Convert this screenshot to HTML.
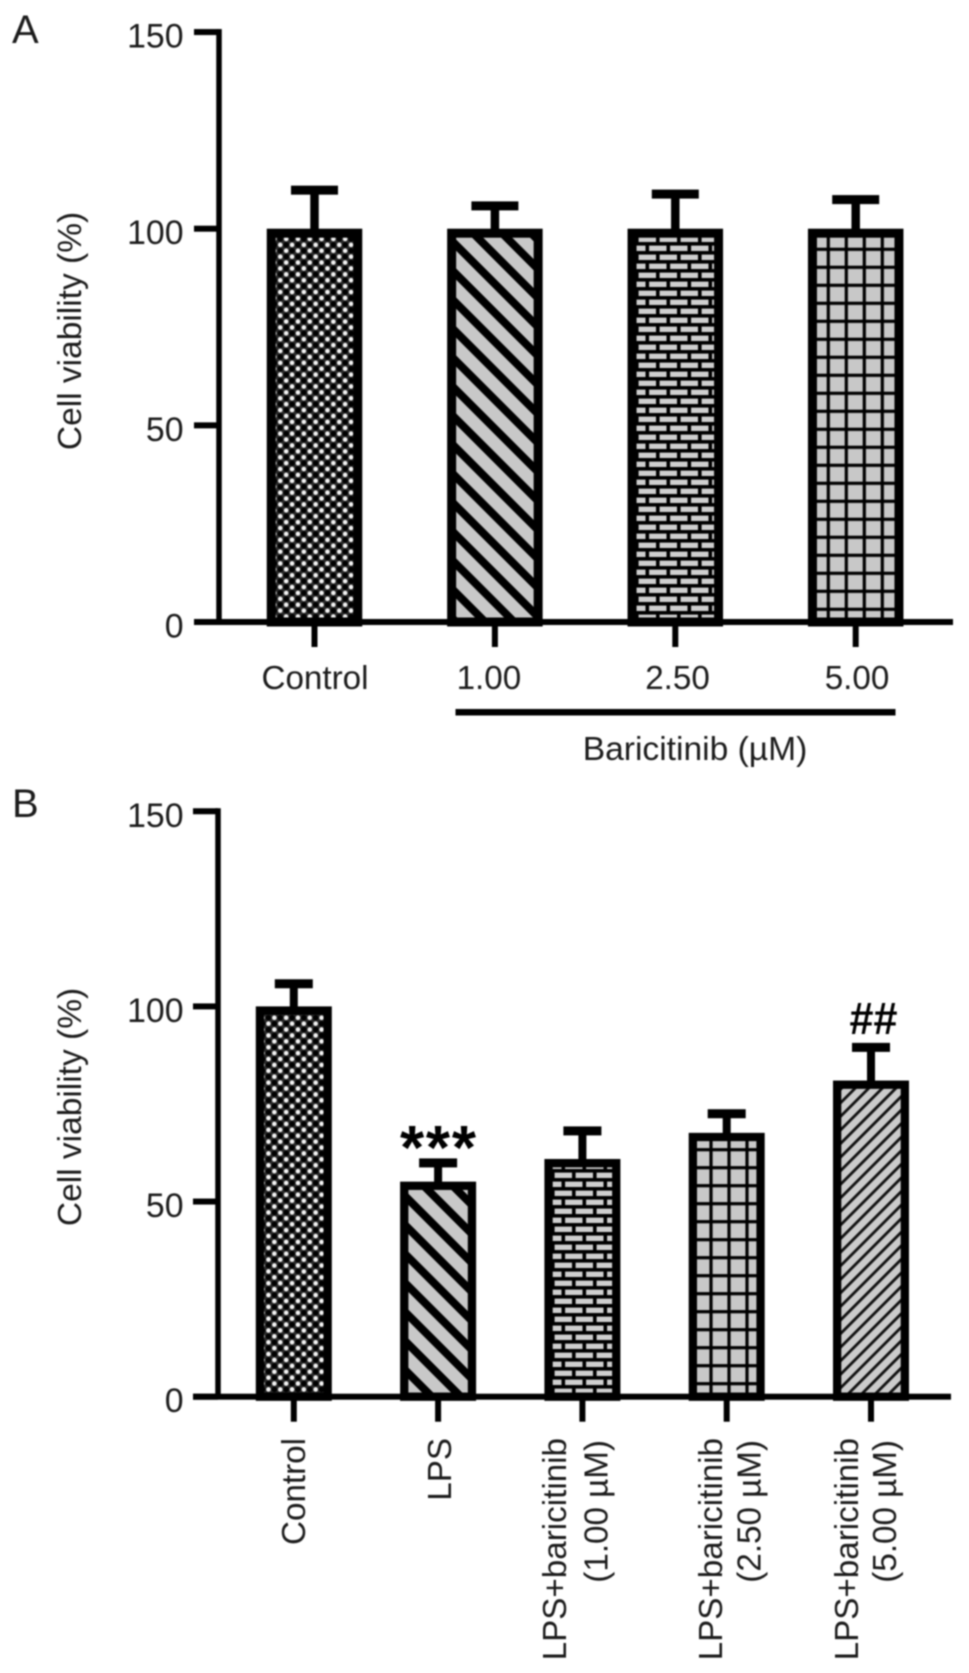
<!DOCTYPE html>
<html lang="en">
<head>
<meta charset="utf-8">
<title>Cell viability bar charts</title>
<style>
html,body{margin:0;padding:0;background:#fff;}
svg{display:block;filter:blur(0.7px);}
text{font-family:"Liberation Sans",Arial,sans-serif;fill:#1c1c1c;}
</style>
</head>
<body>
<svg id="figure" xmlns="http://www.w3.org/2000/svg" width="969" height="1673" viewBox="0 0 969 1673">
  <defs>
    <pattern id="dots" patternUnits="userSpaceOnUse" width="11.8" height="11.8">
      <rect width="11.8" height="11.8" fill="#2a2a2a"/>
      <circle cx="2.95" cy="2.95" r="2.3" fill="#f4f4f4"/>
      <circle cx="8.85" cy="8.85" r="2.3" fill="#f4f4f4"/>
      <circle cx="8.85" cy="2.95" r="2.8" fill="#000"/>
      <circle cx="2.95" cy="8.85" r="2.8" fill="#000"/>
    </pattern>
    <pattern id="back-hatch-a" patternUnits="userSpaceOnUse" width="20.5" height="20.5" patternTransform="rotate(45) translate(0 10.8)">
      <rect width="20.5" height="20.5" fill="#c8c8c8"/>
      <rect width="20.5" height="8" fill="#000"/>
    </pattern>
    <pattern id="back-hatch-b" patternUnits="userSpaceOnUse" width="20.5" height="20.5" patternTransform="rotate(45) translate(0 1.8)">
      <rect width="20.5" height="20.5" fill="#c8c8c8"/>
      <rect width="20.5" height="8" fill="#000"/>
    </pattern>
    <pattern id="bricks" patternUnits="userSpaceOnUse" width="21" height="18" y="233">
      <rect width="21" height="18" fill="#cfcfcf"/>
      <rect y="0" width="21" height="3.6" fill="#000"/>
      <rect y="9" width="21" height="3.6" fill="#000"/>
      <rect x="5" y="0" width="3.6" height="9" fill="#000"/>
      <rect x="15.5" y="9" width="3.6" height="9" fill="#000"/>
    </pattern>
    <pattern id="grid-a" patternUnits="userSpaceOnUse" width="18" height="18" x="-1.3" y="13.7">
      <rect width="18" height="18" fill="#c8c8c8"/>
      <rect width="3.2" height="18" fill="#000"/>
      <rect width="18" height="3.2" fill="#000"/>
    </pattern>
    <pattern id="grid-b" patternUnits="userSpaceOnUse" width="18" height="18" x="7.4" y="14.1">
      <rect width="18" height="18" fill="#c8c8c8"/>
      <rect width="3.2" height="18" fill="#000"/>
      <rect width="18" height="3.2" fill="#000"/>
    </pattern>
    <pattern id="fine-hatch" patternUnits="userSpaceOnUse" width="9.6" height="9.6" patternTransform="rotate(-45)">
      <rect width="9.6" height="9.6" fill="#cbcbcb"/>
      <rect width="9.6" height="2.8" fill="#111"/>
    </pattern>
  </defs>

  <text x="12" y="43" font-size="40">A</text>
  <text x="12" y="817" font-size="40">B</text>

  <text transform="translate(81 331) rotate(-90)" text-anchor="middle" font-size="33.5">Cell viability (%)</text>
  <text transform="translate(81 1107) rotate(-90)" text-anchor="middle" font-size="33.5">Cell viability (%)</text>

  <rect x="455.5" y="709" width="440" height="6.5" fill="#000"/>
  <text x="695" y="760" text-anchor="middle" font-size="33.6">Baricitinib (µM)</text>

  <text x="438" y="1169" text-anchor="middle" font-size="62" font-weight="bold" textLength="76" lengthAdjust="spacing" style="fill:#000">***</text>
  <text x="873.5" y="1034" text-anchor="middle" font-size="45" font-weight="bold" textLength="48" lengthAdjust="spacingAndGlyphs" style="fill:#000">##</text>

  <g id="chart-a"></g>
  <g id="chart-b"></g>
</svg>

<script>
var yTickValues = [0, 50, 100, 150];

var categoriesA = ['Control', '1.00', '2.50', '5.00'];
var meansA = [100, 100, 100, 100];
var errorTopsA = [109.8, 105.8, 108.8, 107.4];

var categoriesB = ['Control', 'LPS', 'LPS+baricitinib (1.00 µM)', 'LPS+baricitinib (2.50 µM)', 'LPS+baricitinib (5.00 µM)'];
var meansB = [100, 55.1, 60.9, 67.6, 81];
var errorTopsB = [105.8, 59.9, 68.1, 72.5, 89.5];

var SVG_NS = 'http://www.w3.org/2000/svg';

function shape(parent, tag, attrs) {
  var el = document.createElementNS(SVG_NS, tag);
  Object.keys(attrs).forEach(function (k) { el.setAttribute(k, attrs[k]); });
  parent.appendChild(el);
  return el;
}

function drawAxes(g, cfg, count) {
  var yAxis = shape(g, 'rect', {x: cfg.axisX - cfg.axisW / 2, y: cfg.y(150) - 3, width: cfg.axisW, height: cfg.y(0) - cfg.y(150) + 3, fill: '#000'});
  
  

  yTickValues.forEach(function (v) {
    var tick = shape(g, 'rect', {x: cfg.axisLeft, y: cfg.y(v) - 3, width: cfg.axisX - cfg.axisLeft, height: 6, fill: '#000'});
    
    
    var label = shape(g, 'text', {x: 183.5, y: cfg.y(v) + 15.5, 'text-anchor': 'end', 'font-size': 33.8});
    
    
    label.textContent = String(v);
  });

  for (var i = 0; i < count; i++) {
    var xt = shape(g, 'rect', {x: cfg.x(i) - 3, y: cfg.y(0), width: 6, height: 25, fill: '#000'});
    
    
  }
}

function drawBars(g, cfg, means, tops, fills) {
  means.forEach(function (m, i) {
    var cx = cfg.x(i), half = cfg.barW / 2, b = cfg.border, top = cfg.y(m), base = cfg.y(0);

    var stem = shape(g, 'rect', {x: cx - cfg.stemW / 2, y: cfg.y(tops[i]), width: cfg.stemW, height: top - cfg.y(tops[i]) + 1, fill: '#000'});
    
    

    var cap = shape(g, 'rect', {x: cx - cfg.capW / 2, y: cfg.y(tops[i]) - 4.5, width: cfg.capW, height: 9, fill: '#000'});
    
    

    var bar = shape(g, 'rect', {x: cx - half + b / 2, y: top + b / 2, width: cfg.barW - b, height: base - top - b / 2, fill: 'url(#' + fills[i] + ')', stroke: '#000', 'stroke-width': b});
    
    
  });
  var xAxis = shape(g, 'rect', {x: cfg.axisLeft, y: cfg.y(0) - 3, width: cfg.axisRight - cfg.axisLeft, height: 6, fill: '#000'});
  
  
}

var cfgA = {
  x: function (i) { return 314.5 + i * 180.4; },
  y: function (v) { return 622 - v * 3.933; },
  axisX: 219, axisW: 5.5, axisLeft: 194, axisRight: 953,
  barW: 95.5, border: 9, stemW: 8.5, capW: 47,
  labelDx: [0.5, -6, 2.2, 1.3]
};
var cfgB = {
  x: function (i) { return 293.8 + i * 144.3; },
  y: function (v) { return 1396.7 - v * 3.903; },
  axisX: 218, axisW: 5.5, axisLeft: 193, axisRight: 951,
  barW: 76, border: 8.3, stemW: 8, capW: 38,
  line1Dx: [11.2, 12.7, -16.4, -4.7, -13.2],
  line2Dx: [0, 0, 25.1, 34, 25]
};

var chartA = document.getElementById('chart-a');
drawAxes(chartA, cfgA, categoriesA.length);
drawBars(chartA, cfgA, meansA, errorTopsA, ['dots', 'back-hatch-a', 'bricks', 'grid-a']);
categoriesA.forEach(function (c, i) {
  var t = shape(chartA, 'text', {x: cfgA.x(i) + cfgA.labelDx[i], y: 689, 'text-anchor': 'middle', 'font-size': 33.2});
  
  
  t.textContent = c;
});

var chartB = document.getElementById('chart-b');
drawAxes(chartB, cfgB, categoriesB.length);
drawBars(chartB, cfgB, meansB, errorTopsB, ['dots', 'back-hatch-b', 'bricks', 'grid-b', 'fine-hatch']);

categoriesB.forEach(function (c, i) {
  var parts = c.match(/^(.*?) (\(.*\))$/);
  var l1x = cfgB.x(i) + cfgB.line1Dx[i];
  var l1 = shape(chartB, 'text', {transform: 'translate(' + l1x + ' 1438) rotate(-90)', 'text-anchor': 'end', 'font-size': 33.2});
  
  
  l1.textContent = parts ? parts[1] : c;
  if (parts) {
    var l2x = cfgB.x(i) + cfgB.line2Dx[i];
    var l2 = shape(chartB, 'text', {transform: 'translate(' + l2x + ' 1440) rotate(-90)', 'text-anchor': 'end', 'font-size': 33.2});
    
    
    l2.textContent = parts[2];
  }
});
</script>
</body>
</html>
